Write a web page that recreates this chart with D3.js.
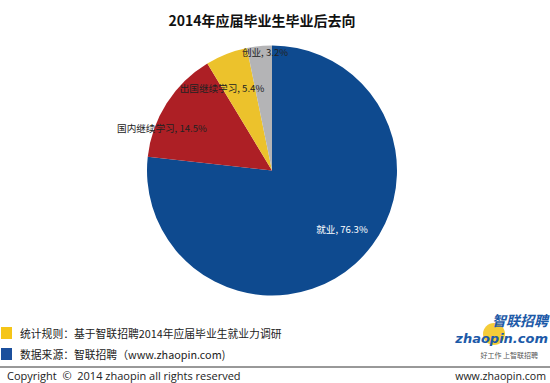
<!DOCTYPE html>
<html><head><meta charset="utf-8">
<script src="https://cdn.jsdelivr.net/npm/d3@7/dist/d3.min.js"></script>
<style>body{margin:0;background:#fff}svg{display:block}</style>
</head><body>
<svg id="c" width="550" height="383"></svg>
<script>
const categories = ["就业", "国内继续学习", "出国继续学习", "创业"];
const values = [76.3, 14.5, 5.4, 3.2];
const colors = ["#0E4A8F", "#AD1F25", "#ECC22C", "#B4B4B6"];
const title = "2014年应届毕业生毕业后去向";
const legendItems = ["统计规则：基于智联招聘2014年应届毕业生就业力调研", "数据来源：智联招聘（www.zhaopin.com)"];
const legendColors = ["#F5C518", "#1B4F9C"];

const svg = d3.select("#c");
const font = "'Noto Sans CJK SC', 'Noto Sans', sans-serif";
const cx = 272, cy = 170.5, r = 125;

svg.append("text").attr("x", 262).attr("y", 26).attr("text-anchor", "middle")
  .attr("font-family", font).attr("font-weight", "bold").attr("font-size", 14).attr("fill", "#111").text(title);

const data = categories.map((c, i) => ({c, v: values[i], col: colors[i]}));
const pie = d3.pie().value(d => d.v).sort(null);
const arcs = pie(data);
const arc = d3.arc().innerRadius(0).outerRadius(r);
const g = svg.append("g").attr("transform", `translate(${cx},${cy})`);
g.selectAll("path").data(arcs).join("path").attr("d", arc).attr("fill", d => d.data.col);

const labelPos = [
  {x: 342, y: 233, fill: "#fff"},
  {x: 162, y: 132, fill: "#222"},
  {x: 222, y: 92, fill: "#222"},
  {x: 265, y: 56, fill: "#222"}
];
svg.selectAll("text.lab").data(arcs).join("text").attr("class", "lab")
  .attr("x", (d, i) => labelPos[i].x).attr("y", (d, i) => labelPos[i].y)
  .attr("text-anchor", "middle")
  .attr("font-family", font).attr("font-size", 9.6).attr("fill", (d, i) => labelPos[i].fill)
  .text(d => `${d.data.c}, ${d.data.v}%`);

legendItems.forEach((t, i) => {
  const y = 327 + i * 21;
  svg.append("rect").attr("x", 1).attr("y", y).attr("width", 11).attr("height", 12).attr("fill", legendColors[i]);
  svg.append("text").attr("x", 20).attr("y", y + 10.5).attr("font-family", font).attr("font-size", 10.8).attr("fill", "#222").text(t);
});

const lg = svg.append("g");
lg.append("circle").attr("cx", 494).attr("cy", 334).attr("r", 11).attr("fill", "#F3C623").attr("opacity", 0.9);
lg.append("text").attr("x", 548).attr("y", 326).attr("text-anchor", "end").attr("font-family", font)
  .attr("font-weight", "bold").attr("font-style", "italic").attr("font-size", 14).attr("fill", "#1D5AA8").text("智联招聘");
lg.append("text").attr("x", 548).attr("y", 343).attr("text-anchor", "end").attr("font-family", "'DejaVu Sans', sans-serif")
  .attr("font-weight", "bold").attr("font-style", "italic").attr("font-size", 13).attr("fill", "#1D5AA8").text("zhaopin.com");
lg.append("text").attr("x", 538).attr("y", 358).attr("text-anchor", "end").attr("font-family", font)
  .attr("font-size", 7).attr("fill", "#555").text("好工作 上智联招聘");

svg.append("line").attr("x1", 0).attr("x2", 550).attr("y1", 367).attr("y2", 367).attr("stroke", "#333").attr("stroke-width", 1);
svg.append("text").attr("x", 7).attr("y", 380).attr("font-family", "'Open Sans', sans-serif").attr("font-size", 11).attr("fill", "#222")
  .attr("xml:space", "preserve").style("white-space", "pre")
  .text("Copyright  ©  2014 zhaopin all rights reserved");
svg.append("text").attr("x", 546).attr("y", 380).attr("text-anchor", "end").attr("font-family", "'Open Sans', sans-serif").attr("font-size", 10.6).attr("fill", "#222")
  .text("www.zhaopin.com");
</script>
</body></html>
